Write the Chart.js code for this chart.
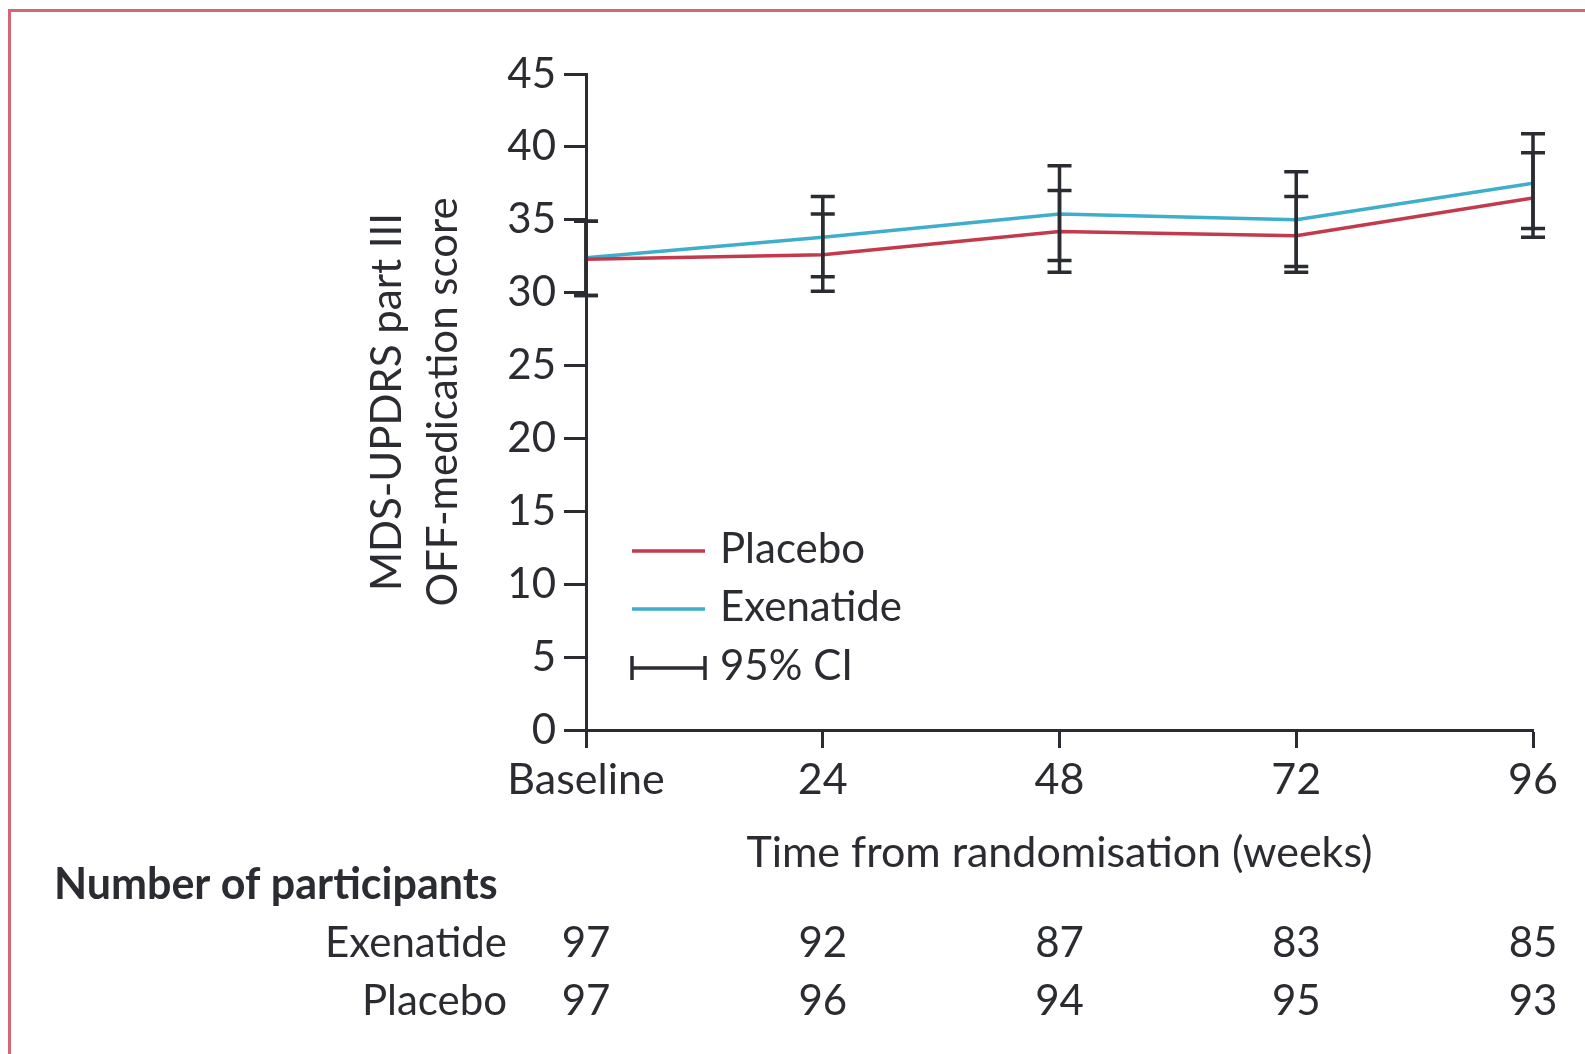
<!DOCTYPE html>
<html>
<head>
<meta charset="utf-8">
<script src="https://cdn.jsdelivr.net/npm/chart.js@4/dist/chart.umd.min.js"></script>
<style>
  html, body { margin: 0; padding: 0; background: #fff; }
  #wrap { position: relative; width: 1585px; height: 1054px; overflow: hidden; }
  #frame { position: absolute; left: 8px; top: 9px; width: 1600px; height: 1100px;
           border-top: 3px solid #d36776; border-left: 3px solid #d36776; pointer-events: none; }
  canvas { position: absolute; left: 0; top: 0; }
</style>
</head>
<body>
<div id="wrap">
  <canvas id="chart" width="1585" height="1054"></canvas>
  <div id="frame"></div>
</div>
<script>
// --- Data ---
const weeks = [0, 24, 48, 72, 96];
const exenatide = [32.4, 33.8, 35.4, 35.0, 37.5];
const placebo = [32.3, 32.6, 34.2, 33.9, 36.5];
const exenatideLow = [29.8, 31.1, 32.2, 31.8, 34.4];
const exenatideHigh = [34.9, 36.6, 38.7, 38.3, 40.9];
const placeboLow = [29.8, 30.1, 31.4, 31.4, 33.8];
const placeboHigh = [34.9, 35.4, 37.0, 36.6, 39.6];
const nExenatide = [97, 92, 87, 83, 85];
const nPlacebo = [97, 96, 94, 95, 93];

const FONT = 'Lato, "Open Sans", sans-serif';
const INK = '#2b2c31';
const RED = '#c23a4c';
const BLUE = '#3eaecb';

// error bars, drawn over the lines
const errorBars = {
  id: 'errorBars',
  afterDatasetsDraw(chart) {
    const { ctx, scales: { x, y } } = chart;
    ctx.save();
    ctx.strokeStyle = INK;
    ctx.lineWidth = 3.5;
    const cap = 12;
    const draw = (lo, hi) => {
      weeks.forEach((w, i) => {
        const px = x.getPixelForValue(w);
        const y1 = y.getPixelForValue(lo[i]);
        const y2 = y.getPixelForValue(hi[i]);
        ctx.beginPath();
        ctx.moveTo(px, y1); ctx.lineTo(px, y2);
        ctx.moveTo(px - cap, y1); ctx.lineTo(px + cap, y1);
        ctx.moveTo(px - cap, y2); ctx.lineTo(px + cap, y2);
        ctx.stroke();
      });
    };
    draw(placeboLow, placeboHigh);
    draw(exenatideLow, exenatideHigh);
    ctx.restore();
  }
};

// legend inside the plot + participant table below
const extras = {
  id: 'extras',
  afterDraw(chart) {
    const { ctx, chartArea, scales: { x } } = chart;
    ctx.save();
    const lx = chartArea.left + 46, lw = 73, tx = lx + lw + 15;
    const rows = [[RED, 'Placebo', 551], [BLUE, 'Exenatide', 609], [null, '95% CI', 668]];
    ctx.font = '42px ' + FONT;
    ctx.textBaseline = 'middle';
    ctx.fillStyle = INK;
    rows.forEach(([c, label, yy]) => {
      ctx.beginPath();
      if (c) {
        ctx.strokeStyle = c; ctx.lineWidth = 3.5;
        ctx.moveTo(lx, yy); ctx.lineTo(lx + lw, yy);
      } else {
        ctx.strokeStyle = INK; ctx.lineWidth = 3.5;
        ctx.moveTo(lx, yy); ctx.lineTo(lx + lw, yy);
        ctx.moveTo(lx, yy - 12); ctx.lineTo(lx, yy + 12);
        ctx.moveTo(lx + lw, yy - 12); ctx.lineTo(lx + lw, yy + 12);
      }
      ctx.stroke();
      ctx.textAlign = 'left';
      ctx.fillText(label, tx, yy - 2);
    });

    // Number of participants
    ctx.font = 'bold 43px ' + FONT;
    ctx.textAlign = 'left';
    ctx.fillText('Number of participants', 54, 885);
    ctx.font = '42px ' + FONT;
    ctx.textAlign = 'right';
    ctx.fillText('Exenatide', 507, 943);
    ctx.fillText('Placebo', 507, 1001);
    ctx.textAlign = 'center';
    weeks.forEach((w, i) => {
      const px = x.getPixelForValue(w);
      ctx.fillText(String(nExenatide[i]), px, 943);
      ctx.fillText(String(nPlacebo[i]), px, 1001);
    });
    ctx.restore();
  }
};

new Chart(document.getElementById('chart'), {
  type: 'line',
  data: {
    datasets: [
      {
        label: 'Placebo',
        data: weeks.map((w, i) => ({ x: w, y: placebo[i] })),
        borderColor: RED, borderWidth: 3.5, pointRadius: 0, tension: 0
      },
      {
        label: 'Exenatide',
        data: weeks.map((w, i) => ({ x: w, y: exenatide[i] })),
        borderColor: BLUE, borderWidth: 3.5, pointRadius: 0, tension: 0
      }
    ]
  },
  options: {
    responsive: false,
    animation: false,
    layout: { padding: { left: 330, right: 52, top: 74, bottom: 0 } },
    plugins: { legend: { display: false }, tooltip: { enabled: false } },
    scales: {
      x: {
        type: 'linear', min: 0, max: 96,
        afterFit: s => { s.height = 324; },
        afterBuildTicks: s => { s.ticks = weeks.map(v => ({ value: v })); },
        border: { color: INK, width: 3 },
        grid: { drawOnChartArea: false, drawTicks: true, tickLength: 18, tickWidth: 3, tickColor: INK },
        ticks: {
          color: INK, font: { family: FONT, size: 43 }, padding: 6, maxRotation: 0,
          callback: v => v === 0 ? 'Baseline' : String(v)
        },
        title: {
          display: true, text: 'Time from randomisation (weeks)', color: INK,
          font: { family: FONT, size: 43 }, padding: { top: 0, bottom: 175 }
        }
      },
      y: {
        min: 0, max: 45,
        afterFit: s => { s.width = 586 - 330; },
        border: { color: INK, width: 3 },
        grid: { drawOnChartArea: false, drawTicks: true, tickLength: 22, tickWidth: 3, tickColor: INK },
        ticks: { stepSize: 5, color: INK, font: { family: FONT, size: 42 }, padding: 8 },
        title: {
          display: true, text: ['MDS-UPDRS part III', 'OFF-medication score'], color: INK,
          font: { family: FONT, size: 42, lineHeight: 1.33 }, padding: { top: 30, bottom: 0 }
        }
      }
    }
  },
  plugins: [errorBars, extras]
});
</script>
</body>
</html>
